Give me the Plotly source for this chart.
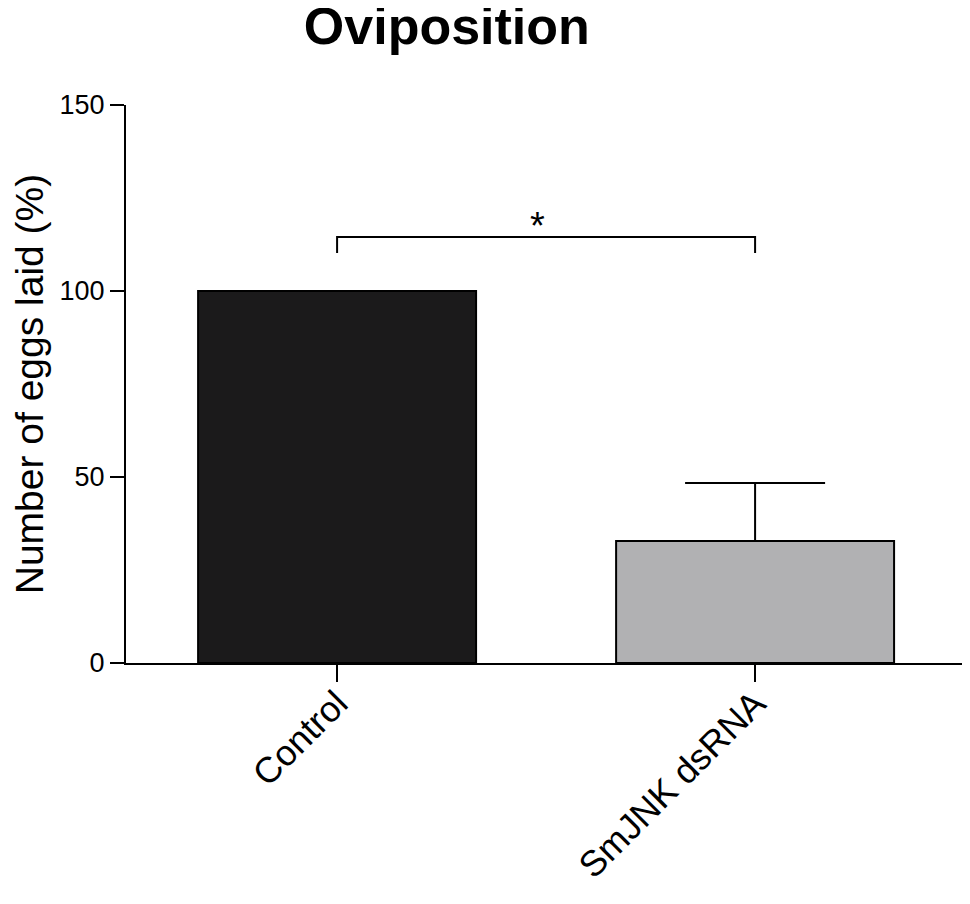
import plotly.graph_objects as go

# data
categories = ["Control", "SmJNK dsRNA"]
means = [100, 32.8]
sem_up = [0, 15.6]
bar_colors = ["#1b1a1b", "#b1b1b3"]

# significance bracket between the two groups
bracket_top = 114.5
bracket_drop = 110.2
sig_label = "*"

font_family = "Liberation Sans, Arial, sans-serif"

fig = go.Figure()

fig.add_trace(go.Bar(
    x=categories,
    y=means,
    width=0.665,
    marker=dict(color=bar_colors, line=dict(color="black", width=2)),
    error_y=dict(
        type="data", symmetric=False, array=sem_up, arrayminus=[0, 0],
        width=70, thickness=2, color="black",
    ),
    showlegend=False,
))

# bracket drawn through the axes' own scales
fig.add_trace(go.Scatter(
    x=[categories[0], categories[0], categories[1], categories[1]],
    y=[bracket_drop, bracket_top, bracket_top, bracket_drop],
    mode="lines",
    line=dict(color="black", width=2),
    showlegend=False,
    hoverinfo="skip",
))

fig.add_annotation(
    x=0.5, y=bracket_top, xref="x", yref="y",
    text=sig_label, showarrow=False,
    yanchor="bottom", xshift=-9, yshift=-12,
    font=dict(size=38, color="black", family=font_family),
)

# page body adds an 8px offset, so the figure is sized to fit inside it
fig.update_layout(
    width=954, height=888,
    margin=dict(l=118, r=0, t=97, b=233, autoexpand=False),
    plot_bgcolor="white", paper_bgcolor="white",
    font=dict(family=font_family, color="black"),
    title=dict(
        text="<b>Oviposition</b>",
        x=0.460, xanchor="center", xref="container",
        y=1.0, yanchor="top", yref="container",
        font=dict(size=52, color="black", family=font_family),
    ),
)

fig.update_xaxes(
    type="category",
    range=[-0.505, 1.495],
    automargin=False,
    showline=True, linecolor="black", linewidth=2,
    ticks="outside", ticklen=17, tickwidth=2, tickcolor="black",
    tickangle=-45,
    ticklabelstandoff=-14,
    tickfont=dict(size=36, color="black"),
    showgrid=False, zeroline=False,
)

fig.update_yaxes(
    range=[0, 150],
    tickvals=[0, 50, 100, 150],
    automargin=False,
    showline=True, linecolor="black", linewidth=2,
    ticks="outside", ticklen=14, tickwidth=2, tickcolor="black",
    tickfont=dict(size=27, color="black"),
    showgrid=False, zeroline=False,
    title=dict(text="Number of eggs laid (%)", font=dict(size=39, color="black"), standoff=25),
)

fig.write_html("out.html")
